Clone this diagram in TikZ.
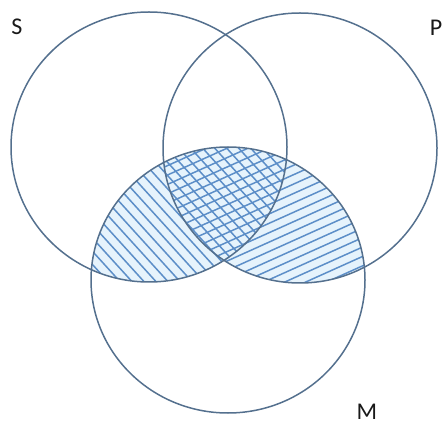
\documentclass[tikz,border=0pt]{standalone}
\usepackage{fontspec}
\setmainfont{Carlito}
\definecolor{rim}{RGB}{84,112,142}
\definecolor{hatchc}{RGB}{92,142,200}
\definecolor{tint}{RGB}{230,243,252}
\begin{document}
\begin{tikzpicture}[x=1pt,y=-1pt,
  rimline/.style={draw=rim,line width=1.5pt},
  hatchline/.style={draw=hatchc,line width=1.5pt},
  lbl/.style={font=\fontsize{24}{26}\selectfont,text=black!90,inner sep=0pt}]
\useasboundingbox (0,0) rectangle (444,427);
\coordinate (cS) at (149,147);
\coordinate (cP) at (300,148);
\coordinate (cM) at (228,280);
\def\Sshape{(cS) ellipse [x radius=138, y radius=135]}
\def\Pshape{(cP) ellipse [x radius=137, y radius=135]}
\def\Mshape{(cM) ellipse [x radius=137, y radius=133]}
% tint of hatched region
\begin{scope}
  \clip \Mshape;
  \fill[tint] \Sshape;
  \fill[tint] \Pshape;
\end{scope}
% S and M: lines running down to the right
\begin{scope}
  \clip \Sshape;
  \clip \Mshape;
  \foreach \x in {-460,-448,...,444}
    \draw[hatchline] (\x,0) -- ++(440,484);
\end{scope}
% P and M: lines running up to the right
\begin{scope}
  \clip \Pshape;
  \clip \Mshape;
  \foreach \y in {100,109.4,...,700}
    \draw[hatchline] (0,\y) -- ++(460,-207);
\end{scope}
\draw[rimline] \Sshape;
\draw[rimline] \Pshape;
\draw[rimline] \Mshape;
\node[lbl] (S) at (17,27) {S};
\node[lbl] (P) at (436,28) {P};
\node[lbl] (M) at (367,412) {M};
\end{tikzpicture}
\end{document}
